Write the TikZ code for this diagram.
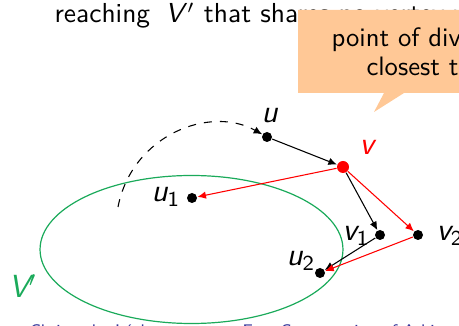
\documentclass[tikz,border=0pt]{standalone}
\usepackage{fontspec}
\usetikzlibrary{positioning, shapes.geometric, arrows.meta}
\definecolor{setgreen}{HTML}{1AAA5A}
\definecolor{footblue}{HTML}{33339A}
\definecolor{calloutfill}{HTML}{FFC896}

\begin{document}
\begin{tikzpicture}[x=0.375pt, y=-0.375pt, font=\sffamily\fontsize{10}{11}\selectfont,
  vert/.style={circle, fill=black, inner sep=0pt, minimum size=3.75pt},
  lbl/.style={anchor=base west, inner sep=0pt, font=\sffamily\fontsize{12}{14}\selectfont\itshape},
  edge/.style={-{Latex[length=3.2pt, width=2.8pt]}, line width=0.4pt},
  redge/.style={edge, red},
  foot/.style={anchor=base west, inner sep=0pt, text=footblue, font=\sffamily\fontsize{6.3}{7}\selectfont}
]
  \clip (0,0) rectangle (459,326);

  \node[anchor=base west, inner sep=0pt, font=\sffamily\fontsize{10.3}{12}\selectfont] (head) at (54,23)
    {reaching\hspace{0.55em}\textit{V}$'$ that shares no vertex with};

  % the set V'
  \node[draw=setgreen, ellipse, inner sep=0pt, minimum width=113.6pt, minimum height=55.5pt, line width=0.45pt] (vset) at (191.5,249.5) {};
  \node[lbl, setgreen] (vsetlbl) at (8,298) {V$'$};

  % vertices
  \node[vert] (u) at (267,137) {};
  \node[vert, fill=red, minimum size=4.5pt] (v) at (343,167) {};
  \node[vert] (u1) at (192,198) {};
  \node[vert] (v1) at (380,235) {};
  \node[vert] (v2) at (418,235) {};
  \node[vert] (u2) at (320,273) {};

  \node[lbl] (ulbl) at (261,123) {u};
  \node[lbl, red] (vlbl) at (359,155) {v};
  \node[lbl] (u1lbl) at (151,202) {u\textsubscript{\upshape 1}};
  \node[lbl] (v1lbl) at (342,241) {v\textsubscript{\upshape 1}};
  \node[lbl] (v2lbl) at (436,241) {v\textsubscript{\upshape 2}};
  \node[lbl] (u2lbl) at (286,266) {u\textsubscript{\upshape 2}};

  % path into V'
  \coordinate (pstart) at (118,207);
  \draw[edge, dashed] (pstart) .. controls (132,135) and (210,105) .. (u);

  \draw[edge] (u) -- (v);
  \draw[edge] (v) -- (v1);
  \draw[edge] (v1) -- (u2);
  \draw[redge] (v) -- (u1);
  \draw[redge] (v) -- (v2);
  \draw[redge] (v2) -- (u2);

  \node[foot] (author) at (29,337) {Christophe Léchenet};
  \node[foot] (title) at (242,337) {Fast Computation of Arbitrary Control Dependencies};

  % callout
  \fill[calloutfill] (298,10) -- (578,10) -- (578,93) -- (404,93) -- (374,112) -- (384,93) -- (298,93) -- cycle;
  \node[align=center, inner sep=0pt, font=\sffamily\fontsize{10}{10.9}\selectfont] (note) at (438,52) {point of divergence\\closest to \textit{V}$'$};
\end{tikzpicture}
\end{document}
